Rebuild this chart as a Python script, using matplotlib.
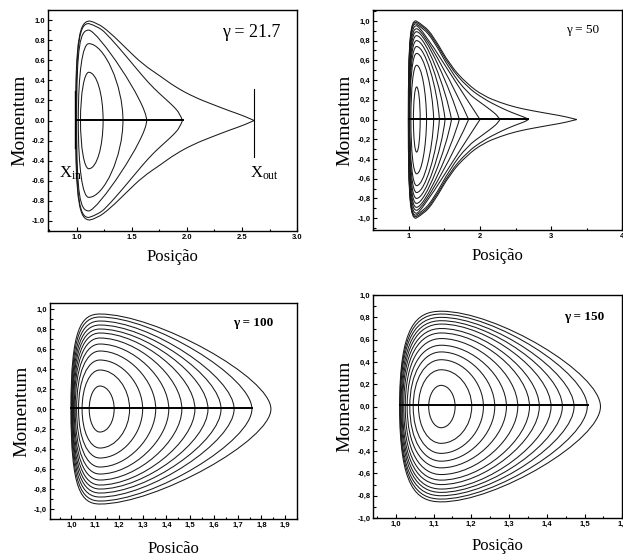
import matplotlib
matplotlib.use('Agg')
import matplotlib.pyplot as plt
from matplotlib.path import Path
from matplotlib.patches import PathPatch
from matplotlib.ticker import FixedLocator, FixedFormatter, MultipleLocator

# ---- gamma = 21.7 ----
g1_x_in  = [1.035, 1.015, 1.0, 0.995, 0.99]
g1_p_top = [0.48, 0.765, 0.90, 0.965, 0.99]
g1_x_out = [1.24, 1.42, 1.635, 1.96, 2.61]
# upper branch of the two outer orbits, peak -> right turning point
g1_tail3_x = [1.11, 1.20, 1.30, 1.457, 1.60, 1.70, 1.80, 1.88, 1.935, 1.96]
g1_tail3_p = [0.965, 0.935, 0.83, 0.63, 0.44, 0.32, 0.22, 0.14, 0.07, 0.0]
g1_tail4_x = [1.12, 1.184, 1.305, 1.457, 1.60, 1.761, 1.90, 2.065, 2.217, 2.40, 2.52, 2.61]
g1_tail4_p = [0.99, 0.974, 0.874, 0.71, 0.56, 0.44, 0.33, 0.234, 0.167, 0.09, 0.045, 0.0]
g1_line_end = 1.965
g1_xticks  = [1.0, 1.5, 2.0, 2.5, 3.0]
g1_xlabels = ['1.0', '1.5', '2.0', '2.5', '3.0']

# ---- gamma = 50 ----
g2_x_in  = [1.065, 1.03, 1.015, 1.01, 1.006, 1.004, 1.002, 1.0, 0.998, 0.996, 0.995, 0.994]
g2_p_top = [0.33, 0.55, 0.67, 0.74, 0.80, 0.85, 0.89, 0.92, 0.95, 0.97, 0.985, 1.0]
g2_x_out = [1.16, 1.25, 1.35, 1.43, 1.51, 1.60, 1.71, 1.84, 2.00, 2.28, 2.68, 3.36]
g2_tail9_x  = [1.10, 1.20, 1.35, 1.58, 1.82, 2.05, 2.18, 2.25, 2.28]
g2_tail9_p  = [0.97, 0.93, 0.80, 0.50, 0.27, 0.15, 0.08, 0.035, 0.0]
g2_tail10_x = [1.10, 1.20, 1.35, 1.58, 1.82, 2.05, 2.29, 2.45, 2.58, 2.65, 2.68]
g2_tail10_p = [0.985, 0.95, 0.82, 0.53, 0.33, 0.21, 0.12, 0.07, 0.035, 0.015, 0.0]
g2_tail11_x = [1.10, 1.21, 1.35, 1.58, 1.82, 2.05, 2.29, 2.52, 2.75, 3.00, 3.20, 3.36]
g2_tail11_p = [1.0, 0.956, 0.84, 0.55, 0.36, 0.24, 0.17, 0.12, 0.087, 0.055, 0.03, 0.0]
g2_line_end = 2.68
g2_xticks  = [1, 2, 3, 4]
g2_xlabels = ['1', '2', '3', '4']

# ---- gamma = 100 ----
g3_x_in  = [1.075, 1.045, 1.03, 1.022, 1.016, 1.012, 1.009, 1.006, 1.004, 1.002, 1.0, 0.998]
g3_p_top = [0.23, 0.39, 0.49, 0.58, 0.65, 0.71, 0.76, 0.80, 0.84, 0.88, 0.92, 0.95]
g3_x_out = [1.18, 1.245, 1.30, 1.355, 1.41, 1.465, 1.52, 1.575, 1.63, 1.685, 1.76, 1.84]
g3_line_end = 1.76
g3_xticks  = [0.9, 1.0, 1.1, 1.2, 1.3, 1.4, 1.5, 1.6, 1.7, 1.8, 1.9]
g3_xlabels = ['0,9', '1,0', '1,1', '1,2', '1,3', '1,4', '1,5', '1,6', '1,7', '1,8', '1,9']

# ---- gamma = 150 ----
g4_x_in  = [1.087, 1.06, 1.046, 1.037, 1.03, 1.025, 1.021, 1.018, 1.016, 1.014, 1.012, 1.011, 1.01]
g4_p_top = [0.19, 0.33, 0.42, 0.49, 0.55, 0.61, 0.66, 0.70, 0.74, 0.77, 0.80, 0.83, 0.855]
g4_x_out = [1.157, 1.201, 1.232, 1.262, 1.293, 1.323, 1.354, 1.38, 1.411, 1.441, 1.472, 1.507, 1.542]
g4_line_end = 1.51
g4_xticks  = [1.0, 1.1, 1.2, 1.3, 1.4, 1.5, 1.6]
g4_xlabels = ['1,0', '1,1', '1,2', '1,3', '1,4', '1,5', '1,6']

yticks = [-1.0, -0.8, -0.6, -0.4, -0.2, 0.0, 0.2, 0.4, 0.6, 0.8, 1.0]
ylabels_dot = ['-1.0', '-0.8', '-0.6', '-0.4', '-0.2', '0.0', '0.2', '0.4', '0.6', '0.8', '1.0']
ylabels_comma = [s.replace('.', ',') for s in ylabels_dot]

SERIF = 'Liberation Serif'
SANS = 'Liberation Sans'
LINE = '#1a1a1a'


def left_seg(x_in, x_top, p_top, k, m):
    return [(x_in, 0.0), (x_in, k * p_top), (x_top - m * (x_top - x_in), p_top), (x_top, p_top)]


def right_seg(x_top, p_top, x_out, a, b, c):
    dx = x_out - x_top
    return [(x_top, p_top), (x_top + a * dx, p_top), (x_out - c * dx, b * p_top), (x_out, 0.0)]


def smooth_segs(xs, ps):
    pts = list(zip(xs, ps))
    segs = []
    start = pts[0]
    for i in range(1, len(pts) - 1):
        if i == len(pts) - 2:
            end = pts[-1]
        else:
            end = ((pts[i][0] + pts[i + 1][0]) / 2, (pts[i][1] + pts[i + 1][1]) / 2)
        segs.append([start, pts[i], end])
        start = end
    return segs


def closed_orbit(upper):
    lower = [[(x, -p) for (x, p) in seg[::-1]] for seg in upper[::-1]]
    verts = [upper[0][0]]
    codes = [Path.MOVETO]
    for seg in upper + lower:
        verts += seg[1:]
        code = {4: Path.CURVE4, 3: Path.CURVE3, 2: Path.LINETO}[len(seg)]
        codes += [code] * (len(seg) - 1)
    return Path(verts, codes)


def lerp(u, v, w):
    return [a + w * (b - a) for a, b in zip(u, v)]


def draw_orbits(ax, x_in, p_top, x_out, x_top, left_in, left_out, right_in, right_out, tails, power=1.0):
    n = len(x_out)
    nb = n - len(tails)
    for i in range(n):
        w = (min(i, nb - 1) / max(nb - 1, 1)) ** power
        k, m = lerp(left_in, left_out, w if i < nb else 1.0)
        if i in tails:
            xs, ps = tails[i]
            segs = [left_seg(x_in[i], xs[0], ps[0], k, m)] + smooth_segs(xs, ps)
        else:
            a, b, c = lerp(right_in, right_out, w)
            segs = [left_seg(x_in[i], x_top, p_top[i], k, m),
                    right_seg(x_top, p_top[i], x_out[i], a, b, c)]
        ax.add_patch(PathPatch(closed_orbit(segs), fill=False, ec=LINE, lw=0.75))


def style_axes(ax, xlim, ylim, xticks, xlabels, xminor, ylabels, ylabpad, xlabpad, xlabel='Posição'):
    ax.set_xlim(*xlim)
    ax.set_ylim(*ylim)
    ax.xaxis.set_major_locator(FixedLocator(xticks))
    ax.xaxis.set_major_formatter(FixedFormatter(xlabels))
    ax.xaxis.set_minor_locator(MultipleLocator(xminor))
    ax.yaxis.set_major_locator(FixedLocator(yticks))
    ax.yaxis.set_major_formatter(FixedFormatter(ylabels))
    ax.yaxis.set_minor_locator(MultipleLocator(0.1))
    ax.tick_params(which='both', direction='in', top=False, right=False, width=0.8, pad=2)
    ax.tick_params(which='major', length=3)
    ax.tick_params(which='minor', length=1.8)
    for lab in ax.get_xticklabels() + ax.get_yticklabels():
        lab.set_fontfamily(SANS)
        lab.set_fontweight('bold')
        lab.set_fontsize(5.5)
    for s in ax.spines.values():
        s.set_linewidth(1.0)
    ax.set_ylabel('Momentum', family=SERIF, fontsize=14, labelpad=ylabpad)
    ax.set_xlabel(xlabel, family=SERIF, fontsize=12, labelpad=xlabpad)


fig = plt.figure(figsize=(6.23, 5.56), dpi=100)
ax1 = fig.add_axes([0.077, 0.5845, 0.400, 0.3975])
ax2 = fig.add_axes([0.599, 0.5863, 0.400, 0.3957])
ax3 = fig.add_axes([0.0803, 0.0665, 0.3965, 0.3885])
ax4 = fig.add_axes([0.599, 0.0683, 0.400, 0.401])

# gamma = 21.7
draw_orbits(ax1, g1_x_in, g1_p_top, g1_x_out, 1.11, (0.55, 0.55), (0.85, 0.7),
            (0.55, 0.55, 0.0), (0.15, 0.2, 0.0),
            {3: (g1_tail3_x, g1_tail3_p), 4: (g1_tail4_x, g1_tail4_p)}, power=2.0)
ax1.plot([g1_x_in[3], g1_line_end], [0.01, 0.01], color='black', lw=1.4)
ax1.plot([0.985, 0.985], [-0.27, 0.29], color='black', lw=1.0)
ax1.plot([g1_x_out[-1], g1_x_out[-1]], [-0.36, 0.31], color='black', lw=0.8)
ax1.text(0.94, -0.53, r'$\mathregular{X_{in}}$', family=SERIF, fontsize=12, ha='center', va='center')
ax1.text(2.70, -0.53, r'$\mathregular{X_{out}}$', family=SERIF, fontsize=12, ha='center', va='center')
ax1.text(2.58, 0.88, 'γ = 21.7', family=SERIF, fontsize=13, ha='center', va='center')
style_axes(ax1, (0.74, 3.0), (-1.1, 1.1), g1_xticks, g1_xlabels, 0.25, ylabels_dot, 3, 6)

# gamma = 50
draw_orbits(ax2, g2_x_in, g2_p_top, g2_x_out, 1.11, (0.55, 0.55), (0.85, 0.7),
            (0.55, 0.55, 0.0), (0.08, 0.25, 0.25),
            {9: (g2_tail9_x, g2_tail9_p), 10: (g2_tail10_x, g2_tail10_p), 11: (g2_tail11_x, g2_tail11_p)})
ax2.plot([1.0, g2_line_end], [0.01, 0.01], color='black', lw=1.4)
ax2.text(3.44, 0.91, 'γ = 50', family=SERIF, fontsize=9.5, ha='center', va='center')
style_axes(ax2, (0.5, 4.0), (-1.12, 1.11), g2_xticks, g2_xlabels, 0.5, ylabels_comma, 3, 6)

# gamma = 100
draw_orbits(ax3, g3_x_in, g3_p_top, g3_x_out, 1.12, (0.55, 0.55), (0.85, 0.65),
            (0.55, 0.55, 0.0), (0.33, 0.33, 0.0), {})
ax3.plot([1.0, g3_line_end], [0.01, 0.01], color='black', lw=1.4)
ax3.text(1.765, 0.86, 'γ = 100', family=SERIF, fontsize=9.5, fontweight='bold', ha='center', va='center')
style_axes(ax3, (0.91, 1.95), (-1.1, 1.06), g3_xticks, g3_xlabels, 0.05, ylabels_comma, 3, 9,
           xlabel='Posicão')

# gamma = 150
draw_orbits(ax4, g4_x_in, g4_p_top, g4_x_out, 1.12, (0.55, 0.55), (0.85, 0.6),
            (0.55, 0.55, 0.0), (0.35, 0.35, 0.0), {})
ax4.plot([1.01, g4_line_end], [0.01, 0.01], color='black', lw=1.4)
ax4.text(1.498, 0.806, 'γ = 150', family=SERIF, fontsize=9.5, fontweight='bold', ha='center', va='center')
style_axes(ax4, (0.94, 1.6), (-1.0, 1.0), g4_xticks, g4_xlabels, 0.05, ylabels_comma, 3, 7)

fig.savefig('out.png', dpi=100)
